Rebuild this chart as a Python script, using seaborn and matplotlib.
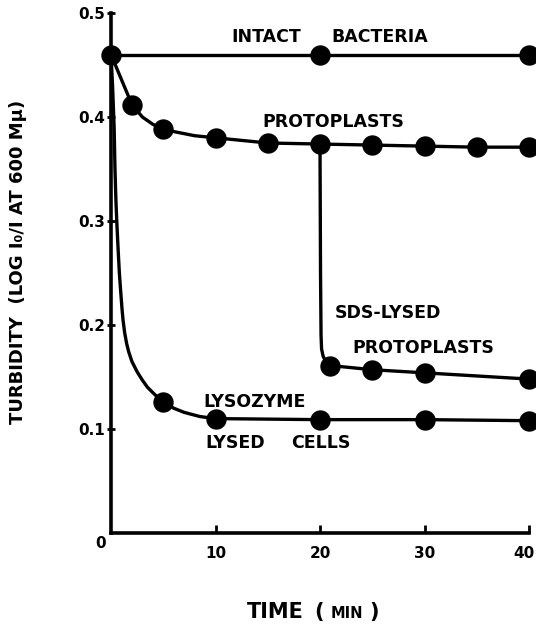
import matplotlib
matplotlib.use("Agg")
import matplotlib.pyplot as plt
import matplotlib.transforms as mtransforms
import seaborn as sns
import pandas as pd

# ---- data ----
intact_t = [0, 20, 40]
intact_y = [0.46, 0.46, 0.46]

proto_t = [2, 5, 10, 15, 20, 25, 30, 35, 40]
proto_y = [0.412, 0.388, 0.380, 0.375, 0.374, 0.373, 0.372, 0.371, 0.371]
proto_curve_t = [0, 1, 2, 3, 4, 5, 6.5, 8, 10, 15, 20, 25, 30, 35, 40]
proto_curve_y = [0.46, 0.436, 0.412, 0.400, 0.393, 0.388, 0.385, 0.382, 0.380,
                 0.375, 0.374, 0.373, 0.372, 0.371, 0.371]

sds_t = [21, 25, 30, 40]
sds_y = [0.161, 0.157, 0.154, 0.148]
sds_curve_t = [20, 20.05, 20.1, 20.15, 20.3, 20.5, 20.75, 21, 25, 30, 40]
sds_curve_y = [0.374, 0.25, 0.19, 0.177, 0.170, 0.166, 0.163, 0.161, 0.157, 0.154, 0.148]

lyso_t = [5, 10, 20, 30, 40]
lyso_y = [0.126, 0.110, 0.109, 0.109, 0.108]
lyso_curve_t = [0, 0.15, 0.3, 0.38, 0.47, 0.55, 0.67, 0.8, 0.93, 1.05, 1.15, 1.3,
                1.5, 1.7, 2.0, 2.5, 3.0, 3.5, 4.2, 5, 6, 7, 8.5, 10, 20, 30, 40]
lyso_curve_y = [0.46, 0.43, 0.39, 0.35, 0.32, 0.30, 0.275, 0.25, 0.232, 0.216,
                0.205, 0.193, 0.182, 0.174, 0.165, 0.155, 0.147, 0.140, 0.133,
                0.126, 0.120, 0.116, 0.112, 0.110, 0.109, 0.109, 0.108]

x_ticks = [10, 20, 30, 40]
y_ticks = [0.1, 0.2, 0.3, 0.4, 0.5]
y_tick_labels = ["0.1", "0.2", "0.3", "0.4", "0.5"]

sns.set_theme(style="ticks")
plt.rcParams['font.family'] = ['DejaVu Sans']
plt.rcParams['font.weight'] = 'bold'
plt.rcParams['text.color'] = 'black'

W, H = 536, 625
fig = plt.figure(figsize=(W / 100, H / 100), dpi=100)
ax = fig.add_axes([111 / W, (H - 533) / H, (529 - 111) / W, (533 - 13) / H])

lw = 2.4
for ct, cy in [(intact_t, intact_y), (proto_curve_t, proto_curve_y),
               (sds_curve_t, sds_curve_y), (lyso_curve_t, lyso_curve_y)]:
    df = pd.DataFrame({"t": ct, "y": cy})
    sns.lineplot(data=df, x="t", y="y", sort=False, color="black", lw=lw,
                 ax=ax, clip_on=False, estimator=None,
                 solid_joinstyle='round', solid_capstyle='round')

pts = pd.DataFrame({
    "t": intact_t + proto_t + sds_t + lyso_t,
    "y": intact_y + proto_y + sds_y + lyso_y,
})
sns.scatterplot(data=pts, x="t", y="y", color="black", s=215, edgecolor="black",
                linewidth=0, ax=ax, clip_on=False, zorder=5)

ax.set_xlim(0, 40)
ax.set_ylim(0, 0.5)
ax.set_xticks(x_ticks)
ax.set_xticklabels([str(v) for v in x_ticks], fontsize=11, fontweight='bold')
ax.set_yticks(y_ticks)
ax.set_yticklabels(y_tick_labels, fontsize=11, fontweight='bold')
ax.tick_params(axis='x', direction='in', length=6, width=2, pad=9, colors='black')
ax.tick_params(axis='y', direction='inout', length=6, width=2, pad=1, colors='black')
for s in ['top', 'right']:
    ax.spines[s].set_visible(False)
for s in ['left', 'bottom']:
    ax.spines[s].set_linewidth(2.6)
    ax.spines[s].set_color('black')
ax.set_xlabel("")
ax.set_ylabel("")

# keep the "40" label inside the figure edge
last = ax.get_xticklabels()[-1]
last.set_transform(last.get_transform() +
                   mtransforms.ScaledTranslation(-5 / 100, 0, fig.dpi_scale_trans))

# shared origin label
fig.text(101 / W, 1 - 543 / H, "0", ha='center', va='center', fontsize=11,
         fontweight='bold')

# axis titles
fig.text(18 / W, 1 - 262 / H, "TURBIDITY  (LOG I\u2080/I AT 600 M\u03bc)",
         rotation=90, ha='center', va='center', fontsize=13, fontweight='bold')
fig.text(275 / W, 1 - 612 / H, "TIME", ha='center', va='center', fontsize=15,
         fontweight='bold')
fig.text(319 / W, 1 - 612 / H, "(", ha='center', va='center', fontsize=15,
         fontweight='bold')
fig.text(347 / W, 1 - 614 / H, "MIN", ha='center', va='center', fontsize=10.5,
         fontweight='bold')
fig.text(374 / W, 1 - 612 / H, ")", ha='center', va='center', fontsize=15,
         fontweight='bold')

tk = dict(fontsize=12.5, fontweight='bold', ha='center', va='center')
ax.text(14.9, 0.477, "INTACT", **tk)
ax.text(25.7, 0.477, "BACTERIA", **tk)
ax.text(21.3, 0.395, "PROTOPLASTS", **tk)
ax.text(26.5, 0.2115, "SDS-LYSED", **tk)
ax.text(29.9, 0.178, "PROTOPLASTS", **tk)
ax.text(13.7, 0.126, "LYSOZYME", **tk)
ax.text(11.9, 0.0865, "LYSED", **tk)
ax.text(20.1, 0.0865, "CELLS", **tk)

fig.savefig("out.png", dpi=100)
